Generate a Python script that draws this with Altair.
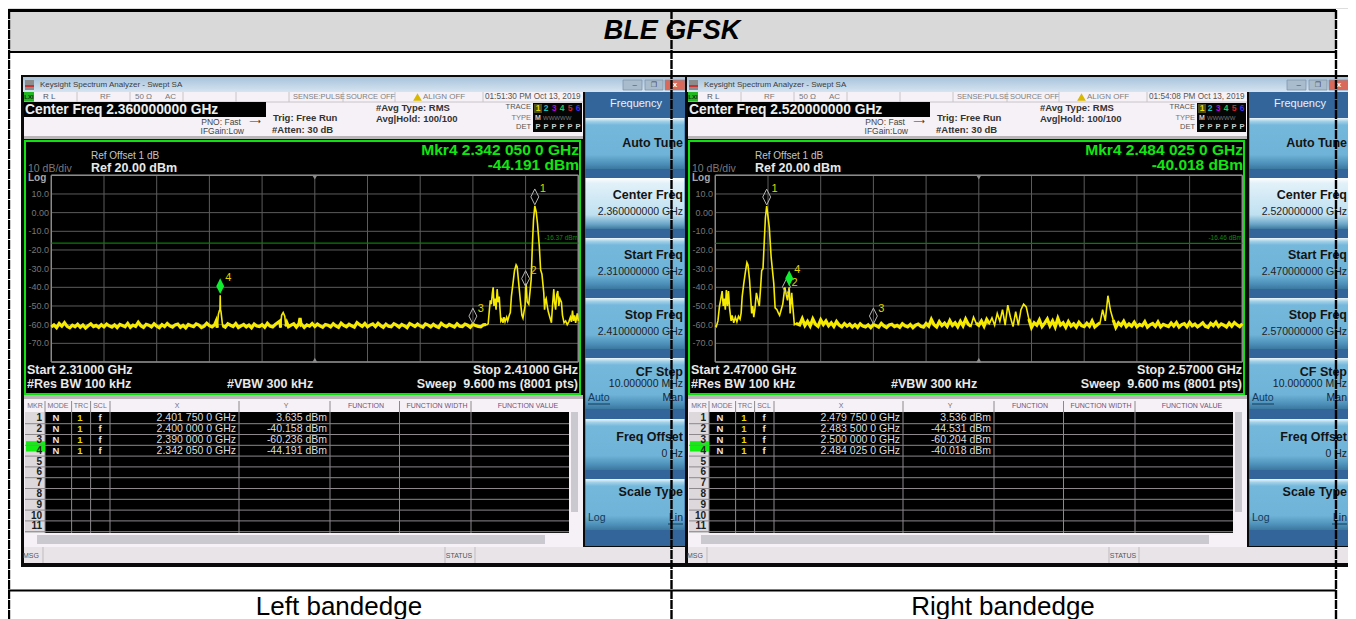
import altair as alt

# ---------- data ----------
DB_TICKS = [10, 0, -10, -20, -30, -40, -50, -60, -70]
DB_LABELS = ["10.0", "0.00", "-10.0", "-20.0", "-30.0", "-40.0", "-50.0", "-60.0", "-70.0"]
DB_ALL = [20, 10, 0, -10, -20, -30, -40, -50, -60, -70, -80]

LEFT_GRID = [2310, 2320, 2330, 2340, 2350, 2360, 2370, 2380, 2390, 2400, 2410]
RIGHT_GRID = [2470, 2480, 2490, 2500, 2510, 2520, 2530, 2540, 2550, 2560, 2570]

left_floor = [
 -61.2,-60.1,-61.6,-59.4,-60.8,-58.9,-60.9,-61.7,-60.3,-61.1,
 -59.8,-61.4,-60.2,-61.8,-60.6,-59.6,-61.0,-60.4,-61.5,-60.0,
 -61.2,-59.7,-60.7,-61.3,-60.1,-61.6,-59.9,-60.5,-61.1,-59.3,
 -61.4,-60.2,-60.9,-58.7,-60.6,-61.5,-59.8,-60.3,-61.2,-59.5,
 -60.8,-61.6,-60.0,-61.0,-59.4,-60.7,-61.3,-60.1,-59.7,-61.4,
 -60.4,-61.7,-59.9,-60.6,-61.1,-59.6,-60.2,-61.5,-60.8,-59.2,
 -60.5,-61.2,-60.0,-61.6,-59.8,-60.9,-61.3,-59.5,-60.3,-61.0,
 -59.4,-61.5,-60.6,-59.9,-61.2,-60.2,-61.7,-59.7,-60.7,-61.0,
 -60.0,-61.4,-59.3,-60.8,-61.2,-59.9,-60.4,-61.6,-59.6,-60.9,
 -61.1,-60.2,-59.5,-61.3,-60.5,-59.8,-61.5,-60.1,-60.8,-59.4,
 -61.0,-59.7,-60.6,-61.4,-59.9,-60.3,-61.2,-59.5,-60.7,-61.5,
 -59.2,-60.4,-61.1,-59.8,-60.6,-61.3,-58.9,-60.0,-60.9,-59.4,
 -61.2,-60.2,-59.6,-61.0,-59.3,-60.5,-61.4,-59.7,-60.8,-61.1,
 -59.5,-60.3,-61.3,-59.9,-60.6,-61.6,-59.4,-60.1,-61.0,-59.7,
 -60.7,-61.4,-59.6,-60.2,-61.2,-59.8,-60.9,-61.5,-59.3,-60.4,
 -61.1,-59.9,-60.6,-61.3,-59.5,-60.8,-61.0,-59.7,-60.3,-61.4,
 -59.8,-60.5,-60.9,-61.2,-60.1,-59.9,
]
left_extra_f = [
 2341.3,2341.7,2341.9,2342.0,2342.05,2342.1,2342.2,2342.5,2353.0,2353.4,2353.7,2354.0,2354.3,2354.7,
 2357.0,2357.2,2357.4,
 2392.7,2392.9,2393.1,2393.3,2393.5,2393.7,2393.85,2394.0,2394.2,2394.4,2394.6,2394.8,2395.0,2395.15,
 2395.3,2395.5,2395.7,2395.9,2396.1,2396.4,2396.6,2396.9,2397.1,2397.3,2397.6,2397.9,2398.2,2398.4,
 2398.7,2399.0,2399.3,2399.5,2399.7,2399.9,2400.0,2400.1,2400.3,2400.6,2400.85,2401.05,2401.3,2401.5,
 2401.75,2402.0,2402.25,2402.6,2402.85,2403.1,2403.45,2403.6,2403.75,2403.9,2404.1,2404.3,2404.6,2404.9,
 2405.1,2405.35,2405.5,2405.7,2405.9,2406.1,2406.3,2406.5,2406.8,2407.0,2407.3,2407.6,2407.9,2408.2,
 2408.5,2408.7,2408.9,2409.1,2409.3,2409.5,2409.8,2410.0,
]
left_extra_v = [
 -58.0,-54.5,-52.5,-52.0,-44.19,-52.0,-53.0,-60.5,-58.8,-58.0,-55.0,-53.5,-55.5,-59.0,
 -59.5,-56.5,-60.0,
 -60.0,-59.5,-53.0,-47.0,-49.0,-43.0,-40.0,-50.0,-46.0,-52.0,-41.0,-48.0,-45.0,-52.0,
 -58.0,-57.0,-59.0,-56.0,-58.5,-56.0,-58.0,-55.0,-53.5,-45.0,-38.0,-31.0,-28.0,-29.0,
 -38.0,-47.0,-55.0,-56.5,-53.0,-50.0,-40.16,-38.0,-47.7,-49.0,-42.0,-36.0,-16.4,-4.0,
 3.63,0.5,-5.7,-18.0,-30.7,-33.0,-43.0,-52.0,-47.0,-46.0,-50.0,-53.0,-56.0,-59.0,
 -50.0,-41.0,-48.0,-52.0,-44.0,-42.0,-50.0,-46.0,-48.0,-55.0,-59.0,-58.0,-60.0,-58.5,
 -56.0,-58.5,-52.5,-58.0,-55.0,-59.0,-54.0,-58.0,
]
right_extra_f = [
 2470.0,2470.2,2470.5,2470.8,2471.0,2471.3,2471.5,2471.7,2471.9,2472.1,2472.3,2472.5,2472.7,2473.0,
 2473.2,2473.5,2473.8,2474.1,2474.4,2474.7,2474.9,2475.1,2475.4,2475.7,2476.0,2476.2,2476.5,2476.9,
 2477.1,2477.3,2477.5,2477.8,2478.1,2478.35,2478.6,2478.8,2479.05,2479.3,2479.5,2479.75,2480.0,2480.25,
 2480.6,2480.85,2481.1,2481.35,2481.7,2482.0,2482.2,2482.5,2482.8,2483.2,2483.4,2483.5,2483.7,2483.85,
 2484.025,2484.2,2484.5,2484.7,2485.0,2485.3,
]
right_extra_v = [
 -60.5,-61.0,-58.0,-50.0,-47.0,-42.0,-50.0,-46.0,-52.0,-41.5,-50.0,-42.0,-51.0,-58.0,
 -55.0,-59.0,-56.0,-58.5,-55.5,-57.0,-53.8,-45.0,-38.0,-32.0,-26.7,-28.0,-36.0,-54.0,
 -50.0,-56.0,-52.0,-43.0,-47.0,-50.0,-40.0,-31.0,-30.0,-15.0,-3.0,3.54,-2.0,-8.0,
 -24.0,-31.0,-38.0,-51.0,-52.0,-54.0,-55.0,-52.0,-49.0,-40.0,-43.0,-44.53,-47.0,-43.0,
 -40.02,-54.0,-43.0,-50.0,-60.0,-59.5,
]
right_floor = [
 -59.5,-60.1,-56.8,-60.4,-58.2,-60.7,-57.0,-59.8,-60.9,-57.4,
 -59.9,-58.0,-60.6,-59.0,-61.0,-58.3,-60.2,-61.2,-59.4,-60.8,
 -59.7,-61.3,-60.0,-61.5,-59.6,-60.8,-61.2,-60.1,-61.6,-59.9,
 -60.5,-61.3,-59.3,-60.7,-61.5,-60.2,-59.8,-61.0,-60.4,-61.4,
 -59.5,-60.6,-61.2,-59.9,-61.6,-60.3,-59.7,-60.9,-61.3,-59.4,
 -60.8,-57.2,-60.0,-61.2,-58.4,-60.5,-59.2,-61.0,-57.8,-60.4,
 -59.0,-61.1,-58.2,-60.6,-57.0,-59.8,-60.9,-56.0,-59.2,-60.4,
 -58.1,-60.8,-57.2,-59.4,-56.4,-60.3,-54.0,-58.2,-52.0,-60.2,
 -49.5,-56.0,-61.0,-53.0,-60.4,-52.0,-49.0,-50.5,-57.0,-61.5,
 -59.0,-60.3,-57.5,-61.0,-59.2,-57.0,-60.6,-58.0,-61.2,-56.6,
 -60.2,-59.0,-61.4,-58.4,-60.7,-59.5,-61.3,-58.8,-60.5,-61.0,
 -59.2,-60.8,-58.0,-61.2,-60.0,-59.0,-52.0,-58.0,-44.5,-52.5,
 -57.5,-61.5,-59.0,-60.4,-58.2,-61.0,-59.6,-60.8,-58.7,-61.1,
 -59.9,-60.6,-58.4,-61.3,-60.1,-59.4,-60.9,-58.6,-61.2,-59.8,
 -60.4,-61.0,-59.1,-60.7,-58.9,-61.3,-60.0,-59.5,-61.1,-58.8,
 -60.6,-59.7,-61.2,-60.2,-59.0,-60.9,-61.4,-59.3,-60.5,-58.7,
 -61.0,-59.6,-60.3,-61.3,-59.2,-60.8,-58.9,-60.1,-61.1,-59.5,
]

LEFT = dict(
    start=2310, stop=2410, center=2360,
    floor=left_floor, floor_start=2310, floor_end=2392.5,
    ef=left_extra_f, ev=left_extra_v,
    marks_f=[2401.75, 2400.0, 2390.0], marks_v=[3.635, -40.158, -60.236], marks_n=["1", "2", "3"],
    marks_dy=[-17, -16.5, -16], active_f=[2342.05], active_v=[-44.191], active_n=["4"],
    limit=-16.37, limit_txt="-16.37 dBm", grid=LEFT_GRID,
    cf="2.360000000 GHz", sf="2.310000000 GHz", ef_txt="2.410000000 GHz",
    center_txt="Center Freq 2.360000000 GHz", clock="01:51:30 PM Oct 13, 2019",
    mkr="Mkr4 2.342 050 0 GHz", mkr_val="-44.191 dBm",
    start_txt="Start 2.31000 GHz", stop_txt="Stop 2.41000 GHz",
    xs=["2.401 750 0 GHz", "2.400 000 0 GHz", "2.390 000 0 GHz", "2.342 050 0 GHz"],
    ys=["3.635 dBm", "-40.158 dBm", "-60.236 dBm", "-44.191 dBm"],
)
RIGHT = dict(
    start=2470, stop=2570, center=2520,
    floor=right_floor, floor_start=2485.5, floor_end=2570,
    ef=right_extra_f, ev=right_extra_v,
    marks_f=[2479.75, 2483.5, 2500.0], marks_v=[3.536, -44.531, -60.204], marks_n=["1", "2", "3"],
    marks_dy=[-17, -12.5, -16], active_f=[2484.025], active_v=[-40.018], active_n=["4"],
    limit=-16.46, limit_txt="-16.46 dBm", grid=RIGHT_GRID,
    cf="2.520000000 GHz", sf="2.470000000 GHz", ef_txt="2.570000000 GHz",
    center_txt="Center Freq 2.520000000 GHz", clock="01:54:08 PM Oct 13, 2019",
    mkr="Mkr4 2.484 025 0 GHz", mkr_val="-40.018 dBm",
    start_txt="Start 2.47000 GHz", stop_txt="Stop 2.57000 GHz",
    xs=["2.479 750 0 GHz", "2.483 500 0 GHz", "2.500 000 0 GHz", "2.484 025 0 GHz"],
    ys=["3.536 dBm", "-44.531 dBm", "-60.204 dBm", "-40.018 dBm"],
)

# ---------- helpers ----------
OX, OY = 8, 8
layers = []
SANS = "Liberation Sans"


def box(x0, y0, x1, y1, color=None, **kw):
    if color is not None:
        kw["color"] = color
    layers.append(alt.Chart().mark_rect(**kw).encode(
        x=alt.value(x0 - OX), x2=alt.value(x1 - OX),
        y=alt.value(y0 - OY), y2=alt.value(y1 - OY)))


def line(x0, y0, x1, y1, color, width=1, dash=None):
    kw = {"color": color, "strokeWidth": width}
    if dash:
        kw["strokeDash"] = dash
    layers.append(alt.Chart().mark_rule(**kw).encode(
        x=alt.value(x0 - OX), x2=alt.value(x1 - OX),
        y=alt.value(y0 - OY), y2=alt.value(y1 - OY)))


def label(x, y, s, size=10, color="#000000", weight="normal", align="left", style="normal", font=SANS):
    layers.append(alt.Chart().mark_text(
        align=align, baseline="middle", font=font, fontSize=size, color=color,
        fontWeight=weight, fontStyle=style).encode(
        x=alt.value(x - OX), y=alt.value(y - OY), text=alt.value(s)))


def vgrad(*stops):
    return alt.LinearGradient(
        gradient="linear", x1=0, x2=0, y1=0, y2=1,
        stops=[alt.GradientStop(offset=o, color=c) for o, c in stops])


BTN = vgrad((0, "#eef6fb"), (0.07, "#9fd0e8"), (0.14, "#74b8dc"), (0.72, "#6fb3d8"), (0.9, "#4c8fb8"), (1, "#3c789f"))
BTN_ON = vgrad((0, "#ffffff"), (0.1, "#e2f1f9"), (0.72, "#bfe0f1"), (0.9, "#6da8c9"), (1, "#40799f"))
GRID = "#5c5c5c"
FRAME = "#8a8a8a"
TRACE = "#f5ea00"
GREEN = "#12e612"
DIAMOND = "M0,-1L0.5,0L0,1L-0.5,0Z"


def window(d, o):
    X = lambda v: v + d
    # shell
    box(X(21), 75, X(687), 567, "#0a0a0a")
    box(X(23), 77, X(685), 92, color=vgrad((0, "#a8c3dc"), (1, "#d5e4f0")))
    box(X(25), 80, X(34), 90, "#8c8c8c")
    box(X(25), 85, X(34), 87, "#c83232")
    label(X(40), 85, "Keysight Spectrum Analyzer - Swept SA", 8, "#3c3c3c")
    for a, b, c in [(623, 642, "#a9bccd"), (645, 663, "#a9bccd"), (665, 685, "#d9695a")]:
        box(X(a), 80, X(b), 90, c, stroke="#7d90a3", strokeWidth=0.7)
    label(X(632.5), 85, "–", 8, "#445")
    label(X(654), 85, "❐", 7, "#445", align="center", font="DejaVu Sans")
    label(X(675), 85, "x", 8, "#ffffff", align="center", weight="bold")

    # status row and header
    box(X(24), 92, X(583), 139, "#f6f1f6")
    box(X(24), 92, X(34), 102, "#22b822")
    label(X(29), 97, "LXI", 6, "#103010", align="center", weight="bold")
    label(X(43), 97, "R L", 8, "#555555")
    label(X(100), 97, "RF", 8, "#777777")
    label(X(135), 97, "50 Ω", 8, "#777777")
    label(X(165), 97, "AC", 8, "#777777")
    for xx in [77, 130, 183, 236, 289, 343, 395, 483]:
        line(X(xx), 92, X(xx), 102, "#c8c4c8")
    line(X(24), 102, X(583), 102, "#c8c4c8")
    label(X(293), 97, "SENSE:PULSE", 7.5, "#808080")
    label(X(346), 97, "SOURCE OFF", 7.5, "#808080")
    layers.append(alt.Chart().mark_point(shape="triangle-up", filled=True, color="#d8b800", size=75, opacity=1).encode(
        x=alt.value(X(417.5) - OX), y=alt.value(97 - OY)))
    label(X(423), 97, "ALIGN OFF", 8, "#808080")
    label(X(485), 97, o["clock"], 8.2, "#555555")

    box(X(24), 102, X(266), 117, "#000000")
    label(X(25), 110, o["center_txt"], 13.8, "#eeeeee", "bold")
    label(X(241), 122, "PNO: Fast", 8.5, "#444444", align="right")
    label(X(255), 122, "⟶", 8, "#333333", align="center", font="DejaVu Sans")
    label(X(244), 131, "IFGain:Low", 8.5, "#444444", align="right")
    label(X(273), 118, "Trig: Free Run", 9.5, "#333333", "bold")
    label(X(272), 130, "#Atten: 30 dB", 9.5, "#333333", "bold")
    label(X(376), 108, "#Avg Type: RMS", 9.5, "#333333", "bold")
    label(X(376), 119, "Avg|Hold: 100/100", 9.5, "#333333", "bold")
    label(X(531), 107, "TRACE", 7.5, "#555555", align="right")
    label(X(531), 118, "TYPE", 7.5, "#777777", align="right")
    label(X(531), 127, "DET", 7.5, "#555555", align="right")
    box(X(533), 103, X(582), 132, "#050505")
    box(X(534), 104, X(542), 113, "#4a4a20")
    for i, (n, c) in enumerate(zip("123456", ["#e6d800", "#18c0c0", "#d000d0", "#10d060", "#e02020", "#4030e0"])):
        label(X(538 + i * 8), 108, n, 8.5, c, "bold", align="center")
        label(X(538 + i * 8), 127, "P", 7.5, "#cccccc", "bold", align="center")
    label(X(538), 118, "M", 7, "#cccccc", "bold", align="center")
    label(X(543), 118, "WWWWW", 6, "#777777")
    box(X(24), 136, X(583), 139, "#b8b4b8")

    # plot frame
    box(X(25), 141, X(580), 394, "#000000", stroke="#10e010", strokeWidth=2)
    label(X(91), 156, "Ref Offset 1 dB", 10, "#c4c4c4")
    label(X(91), 168, "Ref 20.00 dBm", 12.5, "#e8e8e8", "bold")
    label(X(28), 169, "10 dB/div", 10.5, "#7a7a7a")
    label(X(28), 178, "Log", 10, "#a8a8a8", "bold")
    label(X(579), 150, o["mkr"], 15.5, GREEN, "bold", align="right")
    label(X(579), 165, o["mkr_val"], 15.5, GREEN, "bold", align="right")
    label(X(27), 370, o["start_txt"], 12.5, "#e8e8e8", "bold")
    label(X(27), 384, "#Res BW 100 kHz", 12.5, "#e8e8e8", "bold")
    label(X(227), 384, "#VBW 300 kHz", 12.5, "#e8e8e8", "bold")
    label(X(578), 370, o["stop_txt"], 12.5, "#e8e8e8", "bold", align="right")
    label(X(578), 384, "Sweep\u00a0\u00a09.600 ms (8001 pts)", 12.5, "#e8e8e8", "bold", align="right")

    # scales driven by the reading of the graticule
    sx = alt.Scale(domain=[o["start"], o["stop"]], range=[X(51.3) - OX, X(578.3) - OX], nice=False, zero=False)
    sy = alt.Scale(domain=[-80, 20], range=[362 - OY, 175.3 - OY], nice=False, zero=False)
    fx = lambda name: alt.X(name, type="quantitative", scale=sx, axis=None)
    fy = lambda name: alt.Y(name, type="quantitative", scale=sy, axis=None)

    vgrid = alt.Data(values=[{"f": f} for f in o["grid"]])
    hgrid = alt.Data(values=[{"db": v} for v in DB_ALL])
    layers.append(alt.Chart(vgrid).mark_rule(color=GRID, strokeWidth=1).encode(
        x=fx("f"), y=alt.value(175.3 - OY), y2=alt.value(362 - OY)))
    layers.append(alt.Chart(hgrid).mark_rule(color=GRID, strokeWidth=1).encode(
        y=fy("db"), x=alt.value(X(51.3) - OX), x2=alt.value(X(578.3) - OX)))
    # graticule outline
    edge_v = alt.Data(values=[{"f": o["start"]}, {"f": o["stop"]}])
    edge_h = alt.Data(values=[{"db": 20}, {"db": -80}])
    layers.append(alt.Chart(edge_v).mark_rule(color=FRAME, strokeWidth=1.4).encode(
        x=fx("f"), y=alt.value(175.3 - OY), y2=alt.value(362 - OY)))
    layers.append(alt.Chart(edge_h).mark_rule(color=FRAME, strokeWidth=1.4).encode(
        y=fy("db"), x=alt.value(X(51.3) - OX), x2=alt.value(X(578.3) - OX)))
    # dB tick labels
    ticks = alt.Data(values=[{"db": v, "t": t} for v, t in zip(DB_TICKS, DB_LABELS)])
    layers.append(alt.Chart(ticks).mark_text(align="right", baseline="middle", font=SANS, fontSize=9, color="#777777").encode(
        y=fy("db"), x=alt.value(X(49) - OX), text=alt.Text("t:N")))
    # centre ticks
    for db, shape in [(19, "triangle-down"), (-79, "triangle-up")]:
        layers.append(alt.Chart(alt.Data(values=[{"f": o["center"], "db": db}])).mark_point(
            shape=shape, filled=True, color="#8a8a8a", size=28, opacity=1).encode(x=fx("f"), y=fy("db")))
    # display line
    layers.append(alt.Chart(alt.Data(values=[{"db": o["limit"]}])).mark_rule(color="#0b7a0b", strokeWidth=1.2).encode(
        y=fy("db"), x=alt.value(X(51.3) - OX), x2=alt.value(X(578.3) - OX)))
    layers.append(alt.Chart(alt.Data(values=[{"db": o["limit"], "t": o["limit_txt"]}])).mark_text(
        align="right", baseline="middle", font=SANS, fontSize=6.5, color="#0f8a0f", dy=-5).encode(
        y=fy("db"), x=alt.value(X(578) - OX), text=alt.Text("t:N")))

    # trace
    merged = {}
    for i, v in enumerate(o["floor"]):
        f = o["floor_start"] + i * 0.5
        if f <= o["floor_end"]:
            merged[f] = v
    for f, v in zip(o["ef"], o["ev"]):
        merged[f] = v
    rows = [{"f": f, "db": merged[f]} for f in sorted(merged)]
    lo, hi = (o["start"], 2392.6) if d == 0 else (2485.2, o["stop"])
    # the noise floor reads as a thicker band: draw its quiet stretches as separate runs
    quiet, seg, was_quiet = [], 0, False
    for r in rows:
        is_quiet = r["db"] <= -56.5 and lo <= r["f"] <= hi
        if is_quiet:
            if not was_quiet:
                seg += 1
            quiet.append({"f": r["f"], "db": r["db"], "seg": seg})
        was_quiet = is_quiet
    layers.append(alt.Chart(alt.Data(values=quiet)).mark_line(
        color=TRACE, strokeWidth=3.2, interpolate="linear", clip=False).encode(
        x=alt.X("f", type="quantitative", scale=sx, axis=None),
        y=fy("db"), detail=alt.Detail("seg:N"), order=alt.Order("f:Q")))
    layers.append(alt.Chart(alt.Data(values=rows)).mark_line(
        color=TRACE, strokeWidth=1.6, interpolate="linear", clip=False).encode(
        x=alt.X("f", type="quantitative", scale=sx, axis=None),
        y=fy("db"), order=alt.Order("f:Q")))

    # markers
    mk = alt.Data(values=[{"f": f, "db": v} for f, v in zip(o["marks_f"], o["marks_v"])])
    layers.append(alt.Chart(mk).mark_point(
        shape=DIAMOND, filled=False, color="#b4b4b4", strokeWidth=1, size=250, yOffset=-9, opacity=1).encode(
        x=fx("f"), y=fy("db")))
    for f, v, n, dy in zip(o["marks_f"], o["marks_v"], o["marks_n"], o["marks_dy"]):
        layers.append(alt.Chart(alt.Data(values=[{"f": f, "db": v, "n": n}])).mark_text(
            font=SANS, fontSize=11, color="#e0d000", dx=8, dy=dy, align="center", baseline="middle").encode(
            x=fx("f"), y=fy("db"), text=alt.Text("n:N")))
    ak = alt.Data(values=[{"f": f, "db": v, "n": n} for f, v, n in zip(o["active_f"], o["active_v"], o["active_n"])])
    layers.append(alt.Chart(ak).mark_point(
        shape=DIAMOND, filled=True, color="#10ee30", size=250, yOffset=-9, opacity=1).encode(
        x=fx("f"), y=fy("db")))
    layers.append(alt.Chart(ak).mark_text(
        font=SANS, fontSize=11, color="#e0d000", dx=8, dy=-17, align="center", baseline="middle").encode(
        x=fx("f"), y=fy("db"), text=alt.Text("n:N")))

    # marker table
    box(X(24), 395, X(583), 401, "#b8b4b8")
    box(X(24), 399, X(583), 547, "#f6f1f6")
    box(X(45), 412, X(569), 533, "#000000")
    box(X(25), 412, X(45), 533, "#dcd8dc")
    heads = [(35, "MKR", "#7a6a7a"), (58, "MODE", "#7a6a7a"), (81, "TRC", "#7a6a7a"), (100, "SCL", "#7a6a7a"),
             (177, "X", "#7a6a7a"), (286, "Y", "#7a6a7a"), (366, "FUNCTION", "#75507a"),
             (437, "FUNCTION WIDTH", "#75507a"), (528, "FUNCTION VALUE", "#75507a")]
    for x, s, c in heads:
        label(X(x), 406, s, 7, c, align="center")
    for xx in [45, 71.6, 90.6, 110, 239, 330, 399.5, 471]:
        line(X(xx), 401, X(xx), 533, "#8c888c")
    box(X(26), 441.2, X(45), 451.5, "#12ee12")
    for r in range(11):
        y = 418.3 + r * 10.8
        line(X(25), y + 5.4, X(569), y + 5.4, "#8c888c")
        label(X(42), y, str(r + 1), 10, "#202020", "bold", align="right")
    for r in range(4):
        y = 418.3 + r * 10.8
        label(X(56), y, "N", 9.5, "#e8e8e8", "bold", align="center")
        label(X(80), y, "1", 9.5, "#e6dc00", "bold", align="center")
        label(X(100), y, "f", 9.5, "#e8e8e8", "bold", align="center")
        label(X(236), y, o["xs"][r], 10.5, "#dddddd", align="right")
        label(X(327), y, o["ys"][r], 10.5, "#dddddd", align="right")
    # scrollbars
    box(X(571), 412, X(578), 512, "#c9c9cf")
    box(X(37), 535, X(545), 544, "#c9c9cf")
    # message row
    box(X(24), 547, X(685), 563, "#e8e4e8")
    label(X(31), 556, "MSG", 7, "#555555", align="center")
    label(X(459), 556, "STATUS", 7, "#555555", align="center")
    for xx in [43, 445, 475]:
        line(X(xx), 547, X(xx), 563, "#bfbbbf")

    # softkeys
    box(X(585), 92, X(685), 546, "#34659a")
    label(X(636), 104, "Frequency", 11, "#e8f2fa", align="center")
    keys = [
        (118, 169, "Auto Tune", None, BTN),
        (178, 229, "Center Freq", o["cf"], BTN_ON),
        (238, 289, "Start Freq", o["sf"], BTN),
        (298, 349, "Stop Freq", o["ef_txt"], BTN),
        (358, 409, "CF Step", "10.000000 MHz", BTN),
        (419, 470, "Freq Offset", "0 Hz", BTN),
        (479, 530, "Scale Type", None, BTN),
    ]
    for top, bot, name, val, grad in keys:
        box(X(585.5), top, X(684.5), bot, color=grad)
        ty = top + 25 if val is None else top + 17
        if name == "CF Step":
            ty = top + 14
        if name == "Freq Offset":
            ty = top + 18
        if name == "Scale Type":
            ty = top + 13
        label(X(683), ty, name, 12.5, "#141414", "bold", align="right")
        if val:
            vy = ty + (12 if name == "CF Step" else 17)
            label(X(683), vy, val, 10.5, "#222222", align="right")
    label(X(588), 398, "Auto", 10.5, "#123a5a")
    line(X(588), 404, X(610), 404, "#123a5a")
    label(X(683), 398, "Man", 10.5, "#222222", align="right")
    label(X(588), 518, "Log", 10.5, "#123a5a")
    label(X(683), 518, "Lin", 10.5, "#222222", align="right")
    line(X(668), 524, X(683), 524, "#123a5a")


# ---------- page ----------
box(9, 12, 1336, 51, "#d9d9d9")
label(672, 31, "BLE GFSK", 27, "#000000", "bold", align="center", style="italic")
window(0, LEFT)
window(664, RIGHT)
line(8, 10.5, 1336, 10.5, "#000000", 3)
line(8, 52, 1336, 52, "#000000", 2)
line(8, 590.5, 1336, 590.5, "#000000", 2)
for xx in [9, 671.5, 1336]:
    line(xx, 10, xx, 619, "#000000", 2.4, [9, 1])
label(339, 606.5, "Left bandedge", 26, "#000000", align="center")
label(1003, 606.5, "Right bandedge", 26, "#000000", align="center")

chart = alt.layer(*layers).properties(
    width=1340, height=611, padding=0,
    autosize=alt.AutoSizeParams(type="none"),
).resolve_scale(x="independent", y="independent").configure_view(stroke=None).configure(background="#ffffff")

chart.save("out.html", embed_options={"renderer": "svg", "actions": False})
